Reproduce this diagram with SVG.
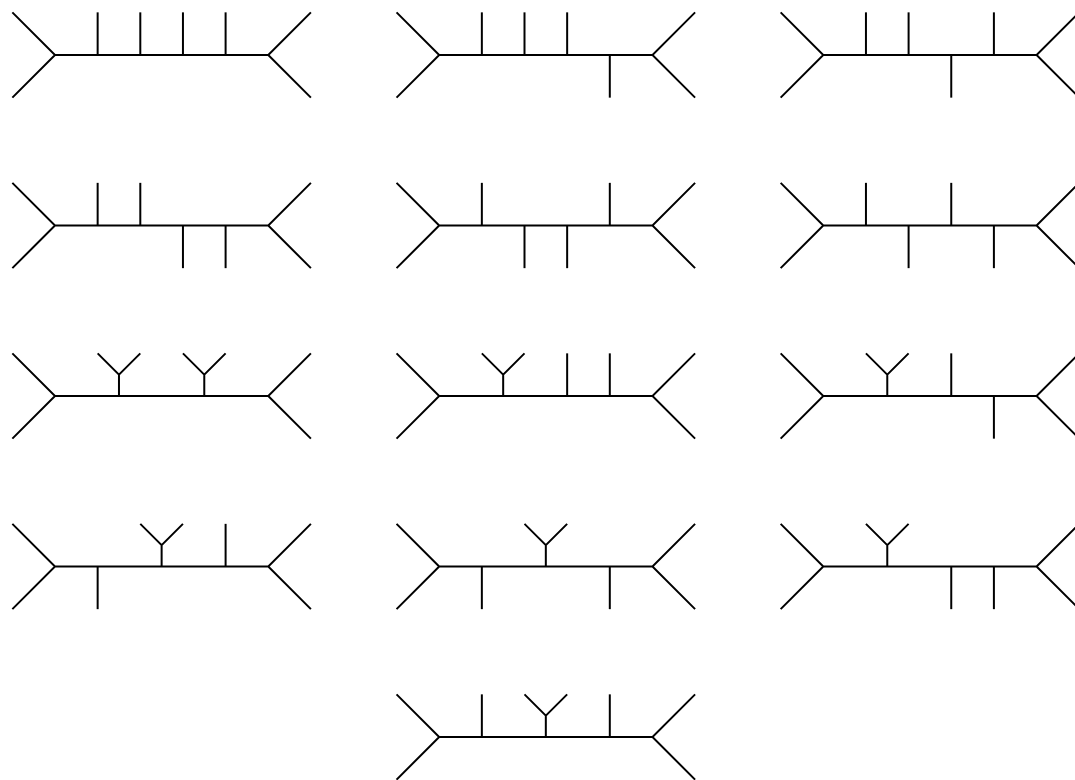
<svg xmlns="http://www.w3.org/2000/svg" width="1075" height="780" viewBox="0 0 1075 780">
<style>
.b{fill:none;stroke:#000;stroke-width:2;stroke-linejoin:miter;stroke-linecap:butt}
</style>
<defs>
<path id="bb" class="b" d="M-42.65,-42.65 L0,0 L-42.65,42.65 M0,0 H213.25 M255.9,-42.65 L213.25,0 L255.9,42.65"/>
<path id="up" class="b" d="M0,0 V-42.65"/>
<path id="dn" class="b" d="M0,0 V42.65"/>
<path id="yb" class="b" d="M0,0 V-21.325 M-21.325,-42.65 L0,-21.325 L21.325,-42.65"/>
</defs>
<rect width="1075" height="780" fill="#fff"/>
<g id="m1" transform="translate(55,55)"><use href="#bb"/><use href="#up" x="42.65"/><use href="#up" x="85.3"/><use href="#up" x="127.95"/><use href="#up" x="170.6"/></g>
<g id="m2" transform="translate(439.2,55)"><use href="#bb"/><use href="#up" x="42.65"/><use href="#up" x="85.3"/><use href="#up" x="127.95"/><use href="#dn" x="170.6"/></g>
<g id="m3" transform="translate(823.3,55)"><use href="#bb"/><use href="#up" x="42.65"/><use href="#up" x="85.3"/><use href="#dn" x="127.95"/><use href="#up" x="170.6"/></g>
<g id="m4" transform="translate(55,225.5)"><use href="#bb"/><use href="#up" x="42.65"/><use href="#up" x="85.3"/><use href="#dn" x="127.95"/><use href="#dn" x="170.6"/></g>
<g id="m5" transform="translate(439.2,225.5)"><use href="#bb"/><use href="#up" x="42.65"/><use href="#dn" x="85.3"/><use href="#dn" x="127.95"/><use href="#up" x="170.6"/></g>
<g id="m6" transform="translate(823.3,225.5)"><use href="#bb"/><use href="#up" x="42.65"/><use href="#dn" x="85.3"/><use href="#up" x="127.95"/><use href="#dn" x="170.6"/></g>
<g id="m7" transform="translate(55,396)"><use href="#bb"/><use href="#yb" x="63.975"/><use href="#yb" x="149.275"/></g>
<g id="m8" transform="translate(439.2,396)"><use href="#bb"/><use href="#yb" x="63.975"/><use href="#up" x="127.95"/><use href="#up" x="170.6"/></g>
<g id="m9" transform="translate(823.3,396)"><use href="#bb"/><use href="#yb" x="63.975"/><use href="#up" x="127.95"/><use href="#dn" x="170.6"/></g>
<g id="m10" transform="translate(55,566.5)"><use href="#bb"/><use href="#dn" x="42.65"/><use href="#yb" x="106.625"/><use href="#up" x="170.6"/></g>
<g id="m11" transform="translate(439.2,566.5)"><use href="#bb"/><use href="#dn" x="42.65"/><use href="#yb" x="106.625"/><use href="#dn" x="170.6"/></g>
<g id="m12" transform="translate(823.3,566.5)"><use href="#bb"/><use href="#yb" x="63.975"/><use href="#dn" x="127.95"/><use href="#dn" x="170.6"/></g>
<g id="m13" transform="translate(439.2,737)"><use href="#bb"/><use href="#up" x="42.65"/><use href="#yb" x="106.625"/><use href="#up" x="170.6"/></g>
</svg>
